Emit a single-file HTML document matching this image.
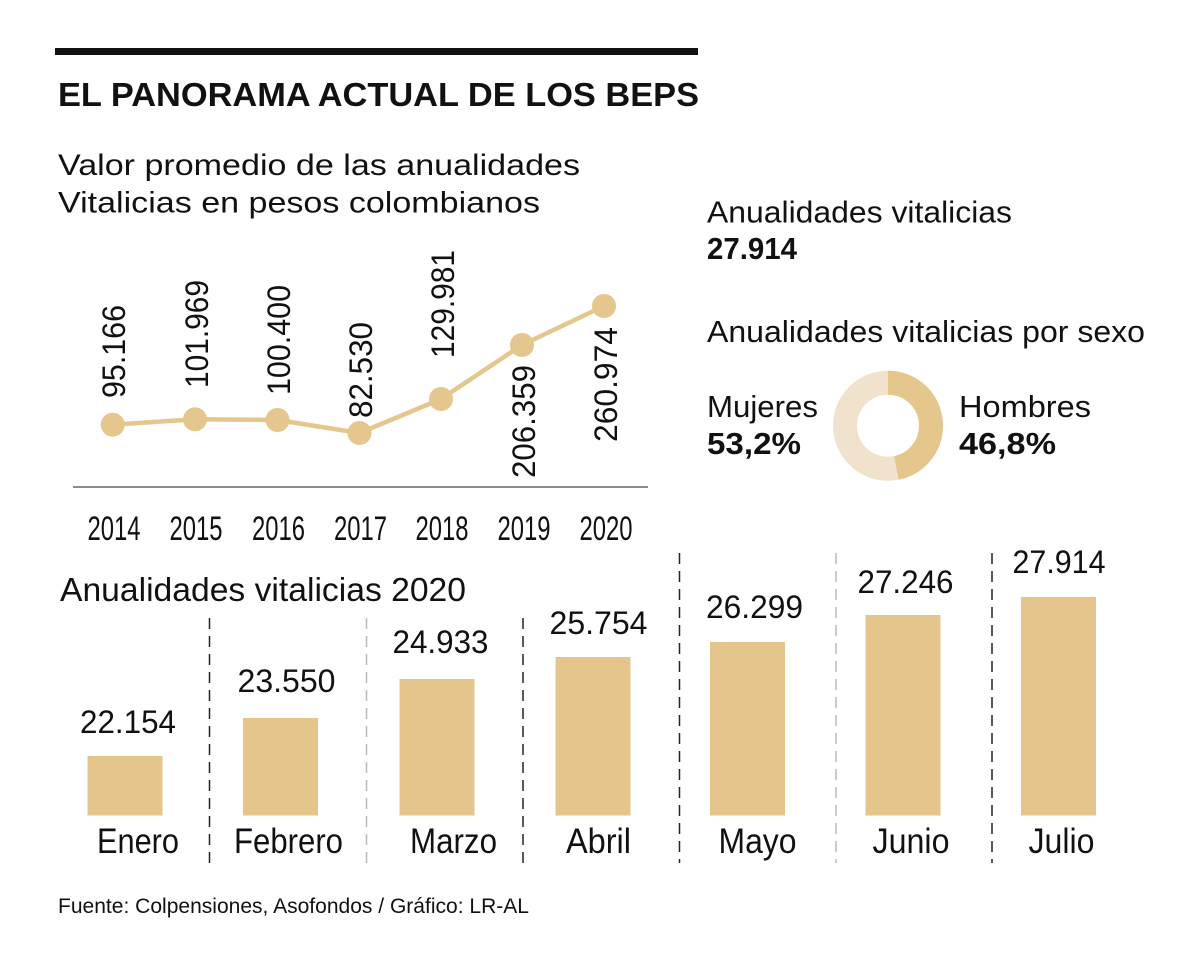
<!DOCTYPE html>
<html>
<head>
<meta charset="utf-8">
<style>
  html, body { margin:0; padding:0; background:#fff; }
  svg { display:block; }
  text { font-family: "Liberation Sans", sans-serif; fill:#111; }
</style>
</head>
<body>
<svg width="1200" height="974" viewBox="0 0 1200 974" xmlns="http://www.w3.org/2000/svg">
  <rect x="0" y="0" width="1200" height="974" fill="#fff"/>

  <!-- Header -->
  <rect x="55" y="48" width="643" height="7" fill="#111"/>
  <text x="58" y="106" font-size="33" font-weight="bold" textLength="641" lengthAdjust="spacingAndGlyphs">EL PANORAMA ACTUAL DE LOS BEPS</text>

  <text x="58" y="175" font-size="30" textLength="522" lengthAdjust="spacingAndGlyphs">Valor promedio de las anualidades</text>
  <text x="58" y="212.5" font-size="30" textLength="482" lengthAdjust="spacingAndGlyphs">Vitalicias en pesos colombianos</text>

  <!-- Right info -->
  <text x="707" y="222.5" font-size="31" fill="#222" textLength="305" lengthAdjust="spacingAndGlyphs">Anualidades vitalicias</text>
  <text x="707" y="259" font-size="31" font-weight="bold" textLength="90" lengthAdjust="spacingAndGlyphs">27.914</text>
  <text x="707" y="342" font-size="31" fill="#222" textLength="438" lengthAdjust="spacingAndGlyphs">Anualidades vitalicias por sexo</text>
  <text x="707" y="417" font-size="31" fill="#222" textLength="111" lengthAdjust="spacingAndGlyphs">Mujeres</text>
  <text x="707" y="454" font-size="31" font-weight="bold" textLength="94" lengthAdjust="spacingAndGlyphs">53,2%</text>
  <text x="959" y="417" font-size="31" fill="#222" textLength="132" lengthAdjust="spacingAndGlyphs">Hombres</text>
  <text x="959" y="454" font-size="31" font-weight="bold" textLength="97" lengthAdjust="spacingAndGlyphs">46,8%</text>

  <!-- Donut -->
  <circle cx="888" cy="425.7" r="43" fill="none" stroke="#f1e2cd" stroke-width="24"/>
  <circle cx="888" cy="425.7" r="43" fill="none" stroke="#e5c78d" stroke-width="24"
          stroke-dasharray="126.44 400" transform="rotate(-90 888 425.7)"/>

  <!-- Line chart -->
  <line x1="73" y1="487" x2="648" y2="487" stroke="#666" stroke-width="1.5"/>
  <polyline points="112.7,424.7 195,419.3 277.5,420 359.5,433 441,399 522,345 604,306"
            fill="none" stroke="#e5c78d" stroke-width="4.5" stroke-linejoin="round"/>
  <g fill="#e5c78d">
    <circle cx="112.7" cy="424.7" r="12"/>
    <circle cx="195" cy="419.3" r="12"/>
    <circle cx="277.5" cy="420" r="12"/>
    <circle cx="359.5" cy="433" r="12"/>
    <circle cx="441" cy="399" r="12"/>
    <circle cx="522" cy="345" r="12"/>
    <circle cx="604" cy="306" r="12"/>
  </g>
  <g font-size="32">
    <text transform="translate(125,398) rotate(-90)" textLength="93" lengthAdjust="spacingAndGlyphs">95.166</text>
    <text transform="translate(208,388) rotate(-90)" textLength="108" lengthAdjust="spacingAndGlyphs">101.969</text>
    <text transform="translate(290,395) rotate(-90)" textLength="110" lengthAdjust="spacingAndGlyphs">100.400</text>
    <text transform="translate(372,418) rotate(-90)" textLength="96" lengthAdjust="spacingAndGlyphs">82.530</text>
    <text transform="translate(454,358) rotate(-90)" textLength="108" lengthAdjust="spacingAndGlyphs">129.981</text>
    <text transform="translate(535,478) rotate(-90)" textLength="113" lengthAdjust="spacingAndGlyphs">206.359</text>
    <text transform="translate(617,442) rotate(-90)" textLength="115" lengthAdjust="spacingAndGlyphs">260.974</text>
  </g>
  <g font-size="34" fill="#222" text-anchor="middle">
    <text x="114" y="540" textLength="53" lengthAdjust="spacingAndGlyphs">2014</text>
    <text x="196" y="540" textLength="53" lengthAdjust="spacingAndGlyphs">2015</text>
    <text x="278.5" y="540" textLength="53" lengthAdjust="spacingAndGlyphs">2016</text>
    <text x="360.5" y="540" textLength="53" lengthAdjust="spacingAndGlyphs">2017</text>
    <text x="442" y="540" textLength="53" lengthAdjust="spacingAndGlyphs">2018</text>
    <text x="524" y="540" textLength="53" lengthAdjust="spacingAndGlyphs">2019</text>
    <text x="606" y="540" textLength="53" lengthAdjust="spacingAndGlyphs">2020</text>
  </g>

  <!-- Bar chart -->
  <text x="60" y="601" font-size="33" textLength="406" lengthAdjust="spacingAndGlyphs">Anualidades vitalicias 2020</text>

  <g stroke-width="1.5" stroke-dasharray="11 7" fill="none">
    <line x1="209.5" y1="618" x2="209.5" y2="863" stroke="#222"/>
    <line x1="366.5" y1="618" x2="366.5" y2="863" stroke="#bbb"/>
    <line x1="523" y1="618" x2="523" y2="863" stroke="#222"/>
    <line x1="679.5" y1="553" x2="679.5" y2="863" stroke="#222"/>
    <line x1="836" y1="553" x2="836" y2="863" stroke="#bbb"/>
    <line x1="992" y1="553" x2="992" y2="863" stroke="#222"/>
  </g>

  <g fill="#e4c68d">
    <rect x="87.5" y="756" width="75" height="59.5"/>
    <rect x="243" y="718" width="75" height="97.5"/>
    <rect x="399.5" y="679" width="75" height="136.5"/>
    <rect x="555.5" y="657" width="75" height="158.5"/>
    <rect x="710" y="642" width="75" height="173.5"/>
    <rect x="865.5" y="615" width="75" height="200.5"/>
    <rect x="1021" y="597" width="75" height="218.5"/>
  </g>

  <g font-size="32" text-anchor="middle">
    <text x="128" y="733" textLength="96" lengthAdjust="spacingAndGlyphs">22.154</text>
    <text x="286.5" y="692" textLength="98" lengthAdjust="spacingAndGlyphs">23.550</text>
    <text x="440.5" y="653" textLength="96" lengthAdjust="spacingAndGlyphs">24.933</text>
    <text x="598.5" y="634" textLength="98" lengthAdjust="spacingAndGlyphs">25.754</text>
    <text x="754.5" y="618" textLength="97" lengthAdjust="spacingAndGlyphs">26.299</text>
    <text x="905.5" y="593" textLength="96" lengthAdjust="spacingAndGlyphs">27.246</text>
    <text x="1059" y="573" textLength="93" lengthAdjust="spacingAndGlyphs">27.914</text>
  </g>

  <g font-size="35" fill="#222" text-anchor="middle">
    <text x="138" y="853" textLength="82" lengthAdjust="spacingAndGlyphs">Enero</text>
    <text x="288.5" y="853" textLength="109" lengthAdjust="spacingAndGlyphs">Febrero</text>
    <text x="453.5" y="853" textLength="87" lengthAdjust="spacingAndGlyphs">Marzo</text>
    <text x="598.5" y="853" textLength="65" lengthAdjust="spacingAndGlyphs">Abril</text>
    <text x="757.5" y="853" textLength="78" lengthAdjust="spacingAndGlyphs">Mayo</text>
    <text x="911" y="853" textLength="77" lengthAdjust="spacingAndGlyphs">Junio</text>
    <text x="1061.5" y="853" textLength="66" lengthAdjust="spacingAndGlyphs">Julio</text>
  </g>

  <!-- Footer -->
  <text x="58" y="913" font-size="21" fill="#222" textLength="471" lengthAdjust="spacingAndGlyphs">Fuente: Colpensiones, Asofondos / Gráfico: LR-AL</text>
</svg>
</body>
</html>
